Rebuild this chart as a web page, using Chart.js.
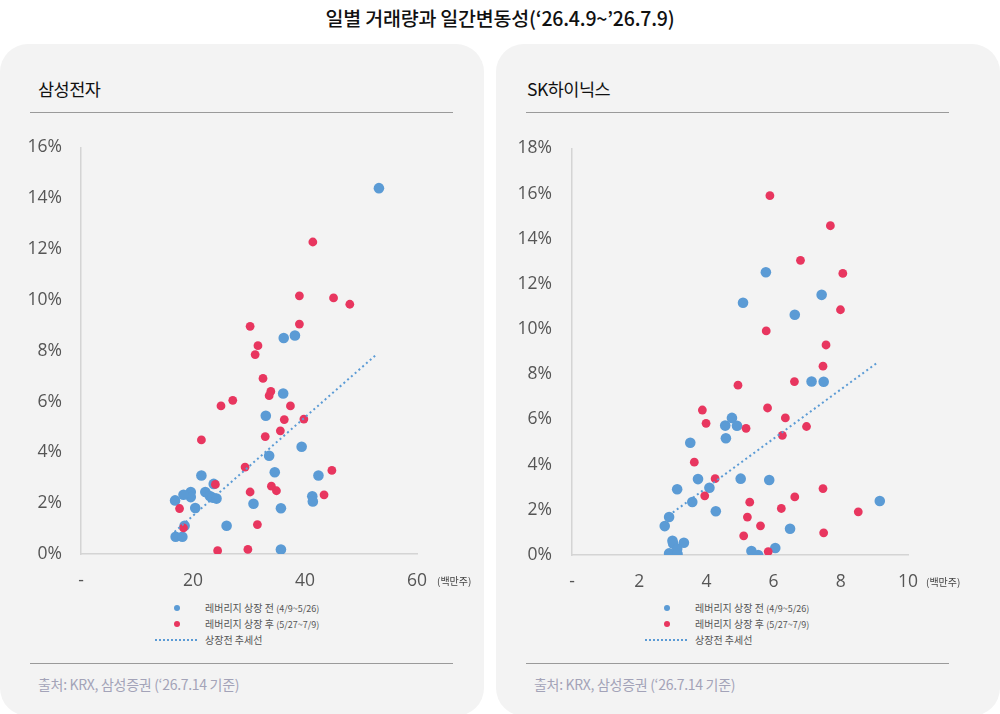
<!DOCTYPE html>
<html>
<head>
<meta charset="utf-8">
<script src="https://cdn.jsdelivr.net/npm/chart.js@4"></script>
<style>
    body { margin: 0; width: 1000px; height: 714px; background: #fff; position: relative; overflow: hidden; font-family: "Noto Sans CJK KR", sans-serif; }
    .title { position: absolute; left: 0; width: 1000px; top: 3px; text-align: center; font-size: 19.5px; font-weight: 500; color: #111; letter-spacing: -0.2px; }
    .panel { position: absolute; top: 44px; width: 484px; height: 672px; background: #f3f3f3; border-radius: 28px; }
    .sub { position: absolute; left: 38px; top: 32px; font-size: 17.5px; color: #111; letter-spacing: -0.5px; }
    .rule { position: absolute; left: 30px; width: 423px; height: 0; border-top: 1.5px solid #9a9a9a; }
    .src { position: absolute; left: 38px; top: 630px; font-size: 14px; color: #a3a3b8; letter-spacing: -0.3px; }
    .unit { position: absolute; font-size: 10px; color: #444; }
    canvas { position: absolute; left: 0; top: 74px; }
    .legend { position: absolute; left: 150px; top: 556px; font-size: 10px; color: #555; line-height: 15px; }
    .legend div { position: relative; padding-left: 55px; white-space: nowrap; }
    .legend small { font-size: 9px; }
    .dot { position: absolute; top: 5px; border-radius: 50%; }
    .dash { position: absolute; left: 5px; top: 7px; width: 42px; border-top: 2px dotted #5b9bd5; }
</style>
</head>
<body>
<div class="title">일별 거래량과 일간변동성(‘26.4.9~’26.7.9)</div>

<div class="panel" style="left:0;">
    <div class="sub">삼성전자</div>
    <div class="rule" style="top:68px;"></div>
    <canvas id="samsung-chart" width="484" height="482"></canvas>
    <div class="unit" style="left:437px; top:529px;">(백만주)</div>
    <div class="legend" style="left:150px;">
        <div><span class="dot" style="left:24px; width:6px; height:6px; background:#5b9bd5;"></span>레버리지 상장 전 <small>(4/9~5/26)</small></div>
        <div><span class="dot" style="left:24px; width:6px; height:6px; background:#e8365f;"></span>레버리지 상장 후 <small>(5/27~7/9)</small></div>
        <div><span class="dash"></span>상장전 추세선</div>
    </div>
    <div class="rule" style="top:619px;"></div>
    <div class="src">출처: KRX, 삼성증권 (‘26.7.14 기준)</div>
</div>

<div class="panel" style="left:496px; width:504px;">
    <div class="sub" style="left:31px;">SK하이닉스</div>
    <div class="rule" style="top:68px; left:30px;"></div>
    <canvas id="hynix-chart" width="484" height="482"></canvas>
    <div class="unit" style="left:430px; top:530px;">(백만주)</div>
    <div class="legend" style="left:144px;">
        <div><span class="dot" style="left:24px; width:6px; height:6px; background:#5b9bd5;"></span>레버리지 상장 전 <small>(4/9~5/26)</small></div>
        <div><span class="dot" style="left:24px; width:6px; height:6px; background:#e8365f;"></span>레버리지 상장 후 <small>(5/27~7/9)</small></div>
        <div><span class="dash"></span>상장전 추세선</div>
    </div>
    <div class="rule" style="top:619px; left:30px;"></div>
    <div class="src" style="left:38px;">출처: KRX, 삼성증권 (‘26.7.14 기준)</div>
</div>

<script>
// 삼성전자: 일별 거래량(백만주) / 일간변동성(%)
const samsungBeforeVolume = [53.2, 36.2, 38.2, 36.1, 33.0, 39.4, 33.6, 34.6, 42.4, 21.5, 23.7, 22.2, 23.0, 23.5, 24.2, 19.6, 19.6, 18.3, 16.8, 20.4, 30.8, 35.7, 41.3, 41.4, 26.0, 18.5, 16.9, 18.1, 35.7];
const samsungBeforeVolatility = [14.4, 8.5, 8.6, 6.32, 5.44, 4.22, 3.87, 3.22, 3.09, 3.09, 2.76, 2.44, 2.28, 2.22, 2.18, 2.44, 2.24, 2.33, 2.11, 1.81, 1.98, 1.80, 2.27, 2.07, 1.11, 1.11, 0.68, 0.68, 0.18];
const samsungAfterVolume = [41.4, 39.0, 45.1, 48.0, 30.2, 39.0, 31.6, 31.1, 32.5, 33.9, 33.6, 27.1, 25.0, 37.4, 36.3, 39.8, 35.6, 32.9, 21.5, 29.3, 44.8, 24.0, 34.0, 34.9, 30.2, 43.4, 17.6, 18.3, 31.5, 24.4, 29.8];
const samsungAfterVolatility = [12.28, 10.16, 10.08, 9.83, 8.96, 9.05, 8.20, 7.85, 6.91, 6.40, 6.23, 6.05, 5.83, 5.83, 5.29, 5.31, 4.85, 4.62, 4.49, 3.42, 3.29, 2.74, 2.67, 2.49, 2.44, 2.33, 1.79, 1.03, 1.16, 0.13, 0.18];
const samsungTrendVolume = [16.7, 52.9];
const samsungTrendVolatility = [0.87, 7.88];

// SK하이닉스
const hynixBeforeVolume = [5.77, 5.09, 7.43, 6.63, 7.13, 7.49, 4.76, 4.56, 4.91, 4.58, 3.52, 3.75, 5.02, 5.87, 4.09, 3.13, 3.58, 4.28, 9.16, 2.89, 2.76, 6.49, 2.99, 3.01, 3.33, 3.13, 2.89, 3.14, 5.34, 5.54, 6.05];
const hynixBeforeVolatility = [12.52, 11.17, 11.52, 10.64, 7.68, 7.67, 6.07, 5.73, 5.72, 5.17, 4.97, 3.36, 3.38, 3.32, 2.98, 2.91, 2.35, 1.94, 2.39, 1.68, 1.28, 1.16, 0.63, 0.51, 0.54, 0.28, 0.07, 0.04, 0.18, 0.0, 0.31];
const hynixAfterVolume = [5.89, 7.69, 6.80, 8.06, 7.99, 5.78, 7.56, 7.47, 6.62, 4.94, 3.88, 5.82, 6.35, 3.99, 5.18, 6.98, 6.26, 3.64, 4.26, 7.47, 3.95, 6.63, 5.29, 6.23, 8.52, 5.22, 5.61, 5.11, 7.49, 5.84];
const hynixAfterVolatility = [15.91, 14.58, 13.05, 12.47, 10.86, 9.92, 9.30, 8.36, 7.68, 7.52, 6.42, 6.51, 6.07, 5.83, 5.61, 5.69, 5.30, 4.11, 3.38, 2.94, 2.62, 2.57, 2.34, 2.06, 1.91, 1.68, 1.29, 0.85, 0.98, 0.15];
const hynixTrendVolume = [2.76, 9.09];
const hynixTrendVolatility = [1.62, 8.52];

const BLUE = '#5b9bd5';
const RED = '#e8365f';

function toPoints (xs, ys) {
    return xs.map((x, i) => ({ x: x, y: ys[i] }));
}

function drawScatter (canvasId, cfg) {
    new Chart(
        document.getElementById(canvasId),
        {
            type: 'scatter',
            options: {
                responsive: false,
                animation: false,
                layout: {
                    padding: { top: 0, right: cfg.padRight, left: 0, bottom: 0 }
                },
                plugins: {
                    legend: { display: false },
                    tooltip: { enabled: false }
                },
                scales: {
                    x: {
                        type: 'linear',
                        min: 0,
                        max: cfg.xMax,
                        afterFit: (scale) => { scale.height = cfg.xHeight; },
                        grid: { display: false, drawTicks: false },
                        border: { color: '#d4d4d4', width: 1.5 },
                        ticks: {
                            stepSize: cfg.xStep,
                            padding: 17,
                            color: '#555',
                            font: { family: 'Open Sans', size: 17.5 },
                            callback: (v) => v === 0 ? '-' : v
                        }
                    },
                    y: {
                        min: 0,
                        max: cfg.yMax,
                        afterFit: (scale) => { scale.width = cfg.yWidth; },
                        grid: { display: false, drawTicks: false },
                        border: { color: '#d4d4d4', width: 1.5 },
                        ticks: {
                            stepSize: 2,
                            padding: cfg.yPad,
                            color: '#555',
                            font: { family: 'Open Sans', size: 17.5 },
                            callback: (v) => v + '%'
                        }
                    }
                }
            },
            data: {
                datasets: [
                    {
                        type: 'line',
                        label: '상장전 추세선',
                        data: toPoints(cfg.trendX, cfg.trendY),
                        borderColor: BLUE,
                        borderWidth: 2,
                        borderDash: [2, 3],
                        pointRadius: 0,
                        fill: false
                    },
                    {
                        label: '레버리지 상장 후 (5/27~7/9)',
                        data: toPoints(cfg.afterX, cfg.afterY),
                        backgroundColor: RED,
                        borderWidth: 0,
                        pointRadius: 4.4
                    },
                    {
                        label: '레버리지 상장 전 (4/9~5/26)',
                        data: toPoints(cfg.beforeX, cfg.beforeY),
                        backgroundColor: BLUE,
                        borderWidth: 0,
                        pointRadius: 5.3
                    }
                ]
            }
        }
    );
}

drawScatter('samsung-chart', {
    beforeX: samsungBeforeVolume, beforeY: samsungBeforeVolatility,
    afterX: samsungAfterVolume, afterY: samsungAfterVolatility,
    trendX: samsungTrendVolume, trendY: samsungTrendVolatility,
    xMax: 60, xStep: 20, yMax: 16,
    padRight: 67, xHeight: 46, yWidth: 81, yPad: 19
});

drawScatter('hynix-chart', {
    beforeX: hynixBeforeVolume, beforeY: hynixBeforeVolatility,
    afterX: hynixAfterVolume, afterY: hynixAfterVolatility,
    trendX: hynixTrendVolume, trendY: hynixTrendVolatility,
    xMax: 10, xStep: 2, yMax: 18,
    padRight: 72, xHeight: 45, yWidth: 76, yPad: 20
});
</script>
</body>
</html>
